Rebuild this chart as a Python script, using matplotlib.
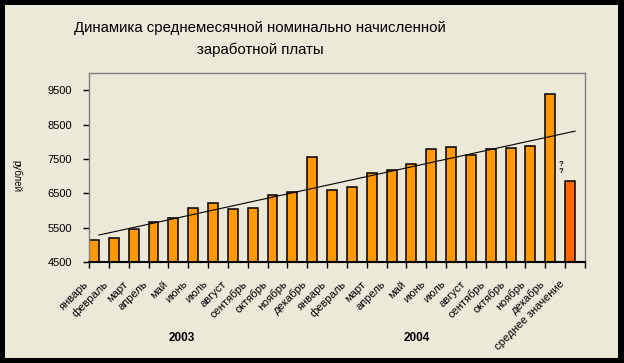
import numpy as np
import matplotlib.pyplot as plt
from matplotlib.patches import Rectangle
import matplotlib.transforms as mtransforms

plt.rcParams['font.family'] = ['Liberation Sans', 'DejaVu Sans']

# Monthly values, roubles (2003, 2004) and the average
months = ['январь', 'февраль', 'март', 'апрель', 'май', 'июнь', 'июль',
          'август', 'сентябрь', 'октябрь', 'ноябрь', 'декабрь']
values_2003 = [5130, 5190, 5450, 5650, 5770, 6060, 6210, 6030, 6060, 6440, 6530, 7570]
values_2004 = [6600, 6670, 7080, 7170, 7340, 7780, 7860, 7600, 7780, 7810, 7890, 9380]
avg_label = 'среднее значение'
avg_value = 6870
years = ['2003', '2004']
yticks = [4500, 5500, 6500, 7500, 8500, 9500]

labels = months + months + [avg_label]
values = values_2003 + values_2004 + [avg_value]
colors = ['#FF9900'] * 24 + ['#FF6600']
n = len(values)

bg = '#ECE9D8'
fig = plt.figure(figsize=(6.24, 3.63), dpi=100, facecolor='black')

# beige panel inside the black frame
bgax = fig.add_axes([0, 0, 1, 1], zorder=-1)
bgax.axis('off')
bgax.add_patch(Rectangle((5 / 624, 5 / 363), 613 / 624, 353 / 363,
                         transform=fig.transFigure, facecolor=bg,
                         edgecolor='none'))

ax = fig.add_axes([89 / 624, 101 / 363, 496 / 624, 189 / 363])
ax.set_facecolor(bg)

x = np.arange(n)
ax.bar(x + 0.25, np.array(values) - 4500, bottom=4500, width=0.5,
       color=colors, edgecolor='black', linewidth=1.1, zorder=2)

# linear trendline over all 25 points
k, b = np.polyfit(x, values, 1)
ax.plot(x + 0.5, k * x + b, color='black', linewidth=0.8, zorder=3)

ax.set_xlim(0, n)
ax.set_ylim(4500, 10000)
ax.set_yticks(yticks)
ax.set_yticklabels([str(v) for v in yticks], fontsize=8)
ax.set_xticks(np.arange(n + 1))
ax.set_xticklabels([])
ax.tick_params(axis='both', direction='out', length=4, width=1, color='black')
ax.tick_params(axis='y', pad=8)

for s in ['top', 'right', 'left']:
    ax.spines[s].set_color('#808080')
    ax.spines[s].set_linewidth(1)
ax.spines['bottom'].set_color('black')
ax.spines['bottom'].set_linewidth(1.5)

off = mtransforms.ScaledTranslation(-11 / 100, -17 / 100, fig.dpi_scale_trans)
trans = mtransforms.blended_transform_factory(ax.transData, ax.transAxes) + off
for i, lab in enumerate(labels):
    ax.text(i + 0.25, 0, lab, rotation=45, rotation_mode='anchor',
            ha='right', va='top', fontsize=8, transform=trans)

ytrans = mtransforms.blended_transform_factory(ax.transData, ax.transAxes)
for xpos, yr in zip([4.65, 16.5], years):
    ax.text(xpos, -0.40, yr, ha='center', va='center', fontsize=8.5,
            fontweight='bold', transform=ytrans)

ax.text(23.8, 7230, '?\n?', ha='center', va='center', fontsize=5.5,
        fontweight='bold', linespacing=0.9)

fig.text(17 / 624, 1 - 176 / 363, 'рублей', rotation=270, ha='center',
         va='center', fontsize=7)

fig.text(260 / 624, 1 - 28 / 363, 'Динамика среднемесячной номинально начисленной',
         ha='center', va='center', fontsize=10.8)
fig.text(260 / 624, 1 - 50 / 363, 'заработной платы',
         ha='center', va='center', fontsize=10.8)

fig.savefig('out.png', dpi=100, facecolor=fig.get_facecolor())
